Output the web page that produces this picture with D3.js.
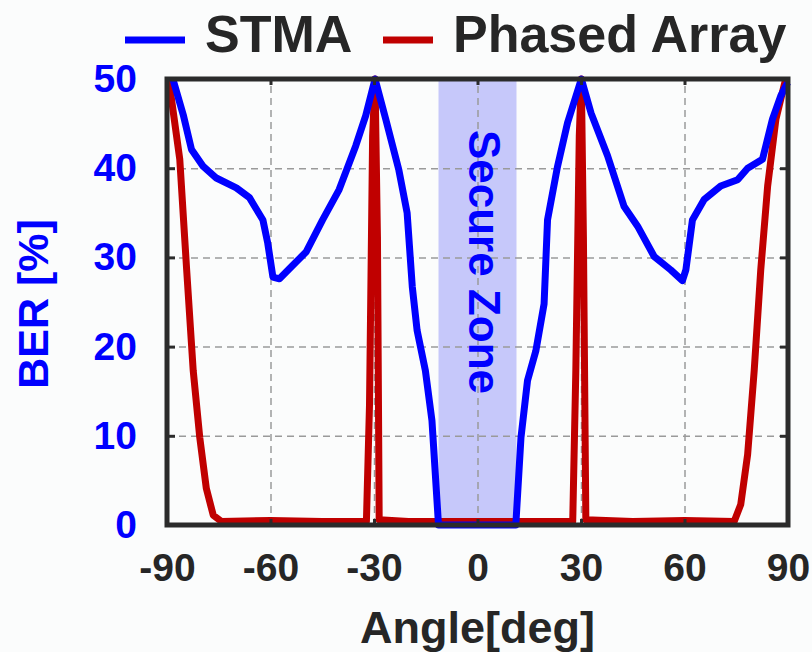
<!DOCTYPE html>
<html>
<head>
<meta charset="utf-8">
<script src="https://cdn.jsdelivr.net/npm/d3@7"></script>
<style>
  body { margin: 0; background: #fbfcfc; }
  svg { display: block; font-family: "Liberation Sans", Arial, sans-serif; font-weight: bold; }
</style>
</head>
<body>
<svg id="chart"></svg>
<script>
// STMA curve (blue)
const stmaAngle = [-88.3, -85.3, -82.9, -79.5, -75.7, -69.9, -66.1, -62.2, -60.8, -59.3, -57.4, -53.6, -49.7, -44.9, -40.1, -35.3, -32.4, -29.7,
    -26.6, -22.8, -20.4, -18.9, -17.5, -15.1, -13.2, -11.3, -5, 0, 5, 11.1,
    12.6, 14.5, 16.9, 19.3, 20.3, 23.2, 26.1, 30.1, 32.9, 37.7, 42.5, 46.4, 51.2, 56.0, 59.4, 60.4, 62.3, 65.7, 70.5, 75.4, 78.3, 82.6, 85.5, 87.9, 89.9];
const stmaBer = [50, 46.0, 42.1, 40.2, 38.9, 37.8, 36.7, 34.2, 31.6, 27.8, 27.6, 29.1, 30.6, 34.2, 37.6, 42.5, 45.9, 50,
    45.5, 39.8, 35.0, 26.7, 21.8, 17.3, 11.7, 0, 0, 0, 0, 0,
    9.8, 16.2, 19.5, 24.8, 34.2, 40.2, 45.1, 50, 46.2, 41.4, 35.7, 33.5, 30.1, 28.6, 27.4, 28.6, 34.2, 36.5, 38.0, 38.7, 40.0, 41.0, 45.5, 48.1, 49.6];

// Phased array curve (red)
const paAngle = [-89.5, -86.3, -84.3, -82.4, -80.5, -78.6, -76.6, -74.2, -60, -45, -32.2, -31.3, -30.4, -29.7, -29.0, -28.5,
    -20, 0, 20, 27.6, 28.5, 29.5, 30.1, 30.7, 31.4, 45, 60, 74.4, 76.3, 78.3, 80.2, 82.1, 84.1, 86.5, 89.2];
const paBer = [50, 41, 28.6, 17.3, 9.8, 4.1, 1.1, 0.4, 0.5, 0.4, 0.4, 13.5, 43.6, 50, 32.3, 0.6,
    0.4, 0.4, 0.4, 0.4, 17.3, 43.6, 50, 32.3, 0.6, 0.4, 0.5, 0.4, 2.3, 7.9, 17.3, 28.6, 38.0, 45.5, 49.8];

const xTicks = [-90, -60, -30, 0, 30, 60, 90];
const yTicks = [0, 10, 20, 30, 40, 50];
const secureZone = [-11.3, 11.3];
const seriesNames = ["STMA", "Phased Array"];
const seriesColors = ["#0000ff", "#c00000"];

const width = 812;
const height = 652;
const margin = { top: 79, right: 24, bottom: 127, left: 167 };

const x = d3.scaleLinear()
    .domain([-90, 90])
    .range([margin.left, width - margin.right]);

const y = d3.scaleLinear()
    .domain([0, 50])
    .range([height - margin.bottom, margin.top]);

const svg = d3.select("#chart")
    .attr("width", width)
    .attr("height", height);

// secure zone band
svg.append("rect")
    .attr("x", x(secureZone[0]))
    .attr("y", y(50))
    .attr("width", x(secureZone[1]) - x(secureZone[0]))
    .attr("height", y(0) - y(50))
    .attr("fill", "#c6c8fa");

// grid
svg.append("g")
    .attr("transform", `translate(0,${y(0)})`)
    .call(d3.axisBottom(x).tickValues(xTicks).tickSize(-(y(0) - y(50))).tickFormat(""))
    .call(g => g.select(".domain").remove())
    .call(g => g.selectAll("line").attr("stroke", "#9a9a9a").attr("stroke-width", 1.5).attr("stroke-dasharray", "7,5"));

svg.append("g")
    .attr("transform", `translate(${x(-90)},0)`)
    .call(d3.axisLeft(y).tickValues(yTicks).tickSize(-(x(90) - x(-90))).tickFormat(""))
    .call(g => g.select(".domain").remove())
    .call(g => g.selectAll("line").attr("stroke", "#9a9a9a").attr("stroke-width", 1.5).attr("stroke-dasharray", "7,5"));

// secure zone label
svg.append("text")
    .attr("transform", `translate(${x(0) - 9},${(y(50) + y(0)) / 2 - 40}) rotate(90)`)
    .attr("text-anchor", "middle")
    .attr("fill", "#0000ff")
    .attr("font-size", 44)
    .text("Secure Zone");

// curves
const line = d3.line()
    .x(d => x(d[0]))
    .y(d => y(d[1]));

svg.append("path")
    .datum(paAngle.map((a, i) => [a, paBer[i]]))
    .attr("fill", "none")
    .attr("stroke", seriesColors[1])
    .attr("stroke-width", 7)
    .attr("stroke-linejoin", "round")
    .attr("d", line);

svg.append("path")
    .datum(stmaAngle.map((a, i) => [a, stmaBer[i]]))
    .attr("fill", "none")
    .attr("stroke", seriesColors[0])
    .attr("stroke-width", 7)
    .attr("stroke-linejoin", "round")
    .attr("d", line);

// inner ticks on all four sides
const tickStyle = g => g.call(g => g.select(".domain").remove())
    .call(g => g.selectAll("line").attr("stroke", "#2b2b2b").attr("stroke-width", 3));

svg.append("g").attr("transform", `translate(0,${y(0)})`)
    .call(d3.axisTop(x).tickValues(xTicks).tickSize(6).tickFormat("")).call(tickStyle);
svg.append("g").attr("transform", `translate(0,${y(50)})`)
    .call(d3.axisBottom(x).tickValues(xTicks).tickSize(6).tickFormat("")).call(tickStyle);
svg.append("g").attr("transform", `translate(${x(-90)},0)`)
    .call(d3.axisRight(y).tickValues(yTicks).tickSize(8).tickFormat("")).call(tickStyle);
svg.append("g").attr("transform", `translate(${x(90)},0)`)
    .call(d3.axisLeft(y).tickValues(yTicks).tickSize(8).tickFormat("")).call(tickStyle);

// frame
svg.append("rect")
    .attr("x", x(-90))
    .attr("y", y(50))
    .attr("width", x(90) - x(-90))
    .attr("height", y(0) - y(50))
    .attr("fill", "none")
    .attr("stroke", "#2b2b2b")
    .attr("stroke-width", 5);

// tick labels
svg.append("g")
    .attr("transform", `translate(0,${y(0)})`)
    .call(d3.axisBottom(x).tickValues(xTicks).tickSize(0).tickPadding(28).tickFormat(d => String(d)))
    .call(g => g.select(".domain").remove())
    .call(g => g.selectAll("text").attr("fill", "#262626").attr("font-size", 39).attr("font-family", null));

svg.append("g")
    .attr("transform", `translate(${x(-90)},0)`)
    .call(d3.axisLeft(y).tickValues(yTicks).tickSize(0).tickPadding(30))
    .call(g => g.select(".domain").remove())
    .call(g => g.selectAll("text").attr("fill", "#0000ff").attr("font-size", 39).attr("font-family", null));

// axis titles
svg.append("text")
    .attr("x", (x(-90) + x(90)) / 2)
    .attr("y", 643)
    .attr("text-anchor", "middle")
    .attr("fill", "#262626")
    .attr("font-size", 45)
    .text("Angle[deg]");

svg.append("text")
    .attr("transform", `translate(48,${(y(0) + y(50)) / 2 + 2}) rotate(-90)`)
    .attr("text-anchor", "middle")
    .attr("fill", "#0000ff")
    .attr("font-size", 43)
    .text("BER [%]");

// legend
const legendX = [125, 383];
seriesNames.forEach((name, i) => {
    svg.append("line")
        .attr("x1", legendX[i]).attr("x2", legendX[i] + (i === 0 ? 60 : 50))
        .attr("y1", 40).attr("y2", 40)
        .attr("stroke", seriesColors[i])
        .attr("stroke-width", 7);
    svg.append("text")
        .attr("x", legendX[i] + (i === 0 ? 80 : 70))
        .attr("y", 52)
        .attr("fill", "#262626")
        .attr("font-size", 52)
        .text(name);
});
</script>
</body>
</html>
